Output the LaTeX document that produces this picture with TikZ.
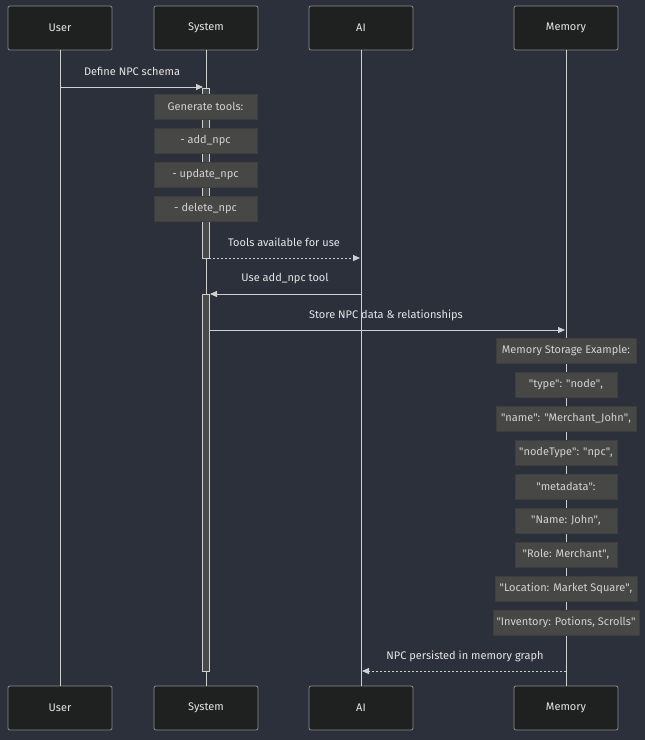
\documentclass[tikz,border=0pt]{standalone}
\usepackage{fontspec}
\setmainfont{Fira Sans}
\usetikzlibrary{arrows.meta}
\definecolor{bgc}{HTML}{2B303B}
\definecolor{actorfill}{HTML}{1F2020}
\definecolor{actorborder}{HTML}{8C8C8C}
\definecolor{textc}{HTML}{E6E6E6}
\definecolor{linec}{HTML}{D0D0D0}
\definecolor{notefill}{HTML}{474845}
\definecolor{noteborder}{HTML}{3E3F3C}
\definecolor{notetext}{HTML}{D2D2D2}
\definecolor{actfill}{HTML}{4A4B48}
\newcommand{\qq}{\textquotedbl}
\tikzset{
  actor/.style={draw=actorborder, fill=actorfill, rounded corners=2pt, minimum width=104pt, minimum height=44pt, text=textc, font=\fontsize{11}{13}\selectfont, line width=0.8pt},
  note/.style={draw=noteborder, fill=notefill, text=notetext, minimum height=25pt, inner xsep=3pt, font=\fontsize{11}{13}\selectfont},
  msg/.style={draw=linec, line width=0.8pt, -{Triangle[length=7pt,width=6pt]}},
  reply/.style={msg, dash pattern=on 2pt off 2pt},
  lbl/.style={text=textc, font=\fontsize{11}{13}\selectfont},
  life/.style={draw=linec, line width=0.8pt},
  actbar/.style={draw=linec, fill=actfill, line width=0.6pt, minimum width=7pt, inner sep=0pt}
}
\begin{document}
\begin{tikzpicture}[x=1pt,y=-1pt]
\fill[bgc] (0,0) rectangle (645,740);
\useasboundingbox (0,0) rectangle (645,740);
% actors
\node[actor] (ut) at (60,28) {User};
\node[actor] (st) at (206,28) {System};
\node[actor] (at) at (361,28) {AI};
\node[actor] (mt) at (566,28) {Memory};
\node[actor] (ub) at (60,708) {User};
\node[actor] (sb) at (206,708) {System};
\node[actor] (ab) at (361,708) {AI};
\node[actor] (mb) at (566,708) {Memory};
% lifelines
\draw[life] (ut.south) -- (ub.north);
\draw[life] (st.south) -- (sb.north);
\draw[life] (at.south) -- (ab.north);
\draw[life] (mt.south) -- (mb.north);
% activations
\node[actbar, minimum height=170pt] (act1) at (205.5,173) {};
\node[actbar, minimum height=377pt] (act2) at (206,482.5) {};
% notes
\node[note, minimum width=103pt] (n1) at (205.5,106.5) {Generate tools:};
\node[note, minimum width=103pt] (n2) at (205.5,140.5) {- add\_npc};
\node[note, minimum width=103pt] (n3) at (205.5,174.5) {- update\_npc};
\node[note, minimum width=103pt] (n4) at (205.5,208.5) {- delete\_npc};
\node[note, minimum width=140pt] (m1) at (566,350.5) {Memory Storage Example:};
\node[note, minimum width=102pt] (m2) at (566,384.5) {\qq type\qq: \qq node\qq,};
\node[note, minimum width=140pt] (m3) at (566,418.5) {\qq name\qq: \qq Merchant\_John\qq,};
\node[note, minimum width=102pt] (m4) at (566,452.5) {\qq nodeType\qq: \qq npc\qq,};
\node[note, minimum width=102pt] (m5) at (566,486.5) {\qq metadata\qq:};
\node[note, minimum width=102pt] (m6) at (566,520.5) {\qq Name: John\qq,};
\node[note, minimum width=102pt] (m7) at (566,554.5) {\qq Role: Merchant\qq,};
\node[note, minimum width=142pt] (m8) at (566,588.5) {\qq Location: Market Square\qq,};
\node[note, minimum width=146pt] (m9) at (566,622.5) {\qq Inventory: Potions, Scrolls\qq};
% message coordinates
\coordinate (a1s) at (60,87);   \coordinate (a1e) at (203,87);
\coordinate (a2s) at (209,258); \coordinate (a2e) at (360,258);
\coordinate (a3s) at (361,294); \coordinate (a3e) at (210,294);
\coordinate (a4s) at (210,330); \coordinate (a4e) at (565,330);
\coordinate (a5s) at (566,671); \coordinate (a5e) at (362,671);
% messages
\draw[msg] (a1s) -- (a1e);
\node[lbl] (l1) at (132,71) {Define NPC schema};
\draw[reply] (a2s) -- (a2e);
\node[lbl] (l2) at (284,242) {Tools available for use};
\draw[msg] (a3s) -- (a3e);
\node[lbl] (l3) at (285,279) {Use add\_npc tool};
\draw[msg] (a4s) -- (a4e);
\node[lbl] (l4) at (386,315) {Store NPC data \& relationships};
\draw[reply] (a5s) -- (a5e);
\node[lbl] (l5) at (465,656) {NPC persisted in memory graph};
\end{tikzpicture}
\end{document}
